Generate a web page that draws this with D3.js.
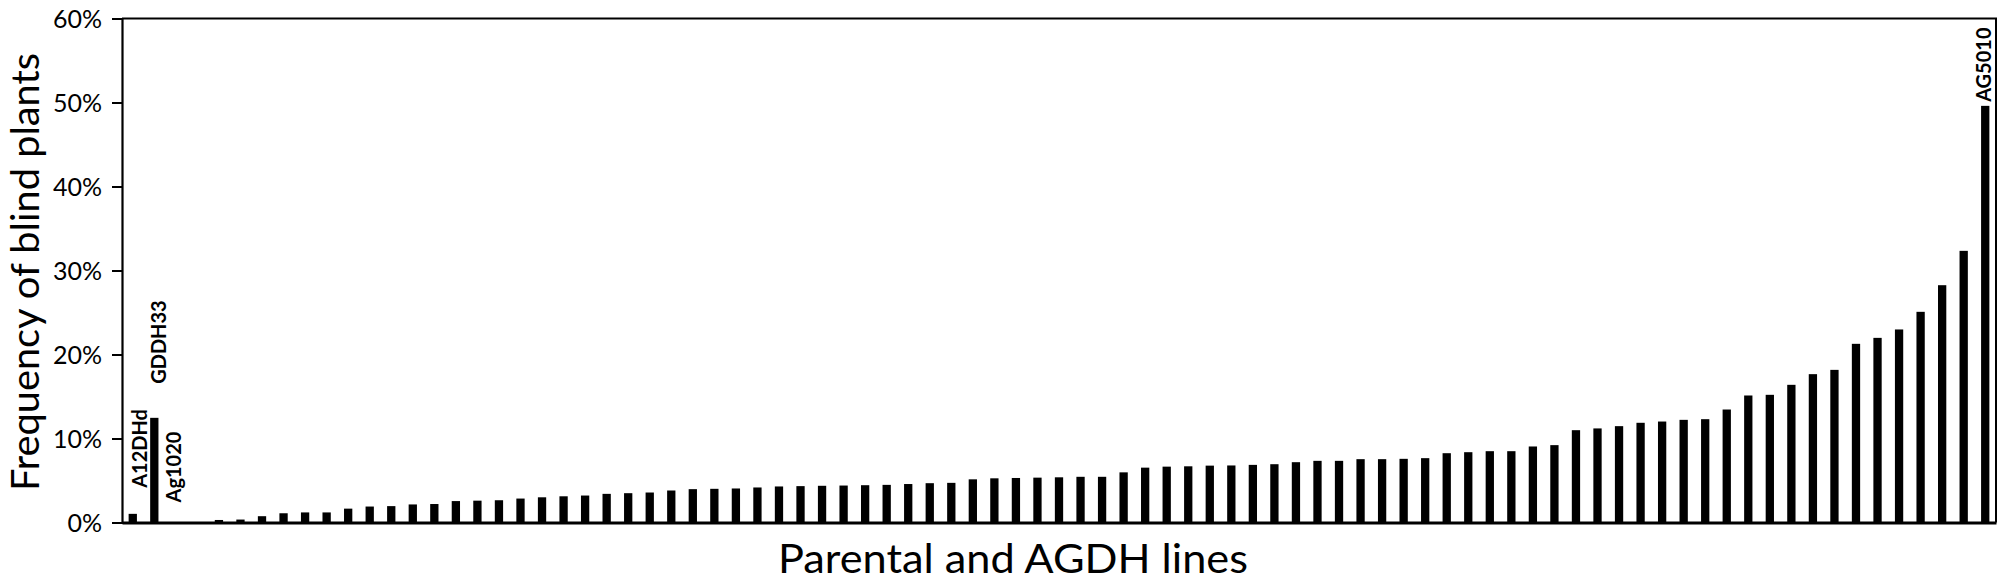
<!DOCTYPE html>
<html>
<head>
<meta charset="utf-8">
<script src="https://cdn.jsdelivr.net/npm/d3@7"></script>
<style>
  html, body { margin: 0; padding: 0; background: #fff; }
  svg { display: block; }
  text { font-family: Lato, "Open Sans", sans-serif; fill: #000; }
</style>
</head>
<body>
<svg id="chart" width="2000" height="583"></svg>
<script>
// ---- data ----
const parentLines = ["A12DHd", "GDDH33", "Ag1020"];
const parentValues = [1.03, 12.46, 0];
const gapCategory = [""];
const agdhValues = [
  0.3, 0.35, 0.75, 1.1, 1.2, 1.2, 1.65, 1.9, 1.95, 2.15, 2.2, 2.55, 2.6, 2.65, 2.85, 3.0,
  3.12, 3.21, 3.41, 3.49, 3.57, 3.81, 3.97, 4.01, 4.05, 4.17, 4.29, 4.33, 4.37, 4.40, 4.44, 4.48, 4.58,
  4.68, 4.72, 5.14, 5.26, 5.30, 5.34, 5.38, 5.44, 5.44, 5.97, 6.53, 6.65, 6.69, 6.77, 6.79, 6.86,
  6.94, 7.18, 7.34, 7.34, 7.54, 7.54, 7.58, 7.66, 8.25, 8.37, 8.49, 8.49, 9.05, 9.21, 10.99, 11.2,
  11.47, 11.87, 12.02, 12.22, 12.30, 13.45, 15.12, 15.20, 16.39, 17.66, 18.17, 21.27, 21.98, 22.98, 25.08, 28.25, 32.34,
  49.6
];
const agdhLines = agdhValues.map((v, i) => i === agdhValues.length - 1 ? "AG5010" : "AGDH_" + (i + 1));
const labelledLines = ["A12DHd", "GDDH33", "Ag1020", "AG5010"];
const yTicks = [0, 10, 20, 30, 40, 50, 60];
const yTickLabels = ["0%", "10%", "20%", "30%", "40%", "50%", "60%"];
const yTitle = "Frequency of blind plants";
const xTitle = "Parental and AGDH lines";

// ---- build ----
const categories = parentLines.concat(gapCategory, agdhLines);
const rows = parentLines.map((c, i) => ({ c, v: parentValues[i] }))
  .concat(agdhLines.map((c, i) => ({ c, v: agdhValues[i] })));

const L = 122, R = 1996, T = 18.5, B = 522.5;
const svg = d3.select("#chart");

const x = d3.scaleBand().domain(categories).range([L, R]).paddingInner(0.615).paddingOuter(0.3075);
const y = d3.scaleLinear().domain([0, 60]).range([B, T]);

// bars
svg.append("g").selectAll("rect").data(rows.filter(d => d.v > 0)).join("rect")
  .attr("x", d => x(d.c))
  .attr("width", x.bandwidth())
  .attr("y", d => y(d.v))
  .attr("height", d => B - y(d.v))
  .attr("fill", "#000");

// frame (top and right)
svg.append("path")
  .attr("d", `M${L},${T}H${R}V${B}`)
  .attr("fill", "none").attr("stroke", "#000").attr("stroke-width", 2);

// y axis
const yAxis = d3.axisLeft(y).tickValues(yTicks).tickFormat((d, i) => yTickLabels[i]).tickSize(10).tickPadding(10);
const gy = svg.append("g").attr("transform", `translate(${L},0)`).call(yAxis);
gy.select(".domain").attr("stroke-width", 2.2);
gy.selectAll(".tick line").attr("stroke-width", 2);
gy.selectAll(".tick text").style("font-size", "25px").style("font-family", "Lato, sans-serif").attr("fill", "#000").attr("dy", "0.36em");

// x axis (baseline)
const xAxis = d3.axisBottom(x).tickValues([]).tickSize(0);
const gx = svg.append("g").attr("transform", `translate(0,${B})`).call(xAxis);
gx.select(".domain").attr("stroke-width", 3);

// bar labels
const labelOffsets = {
  "A12DHd": { dx: 14, base: "top", dy: -26 },
  "GDDH33": { dx: 11.5, base: "top", dy: -34 },
  "Ag1020": { dx: 5.5, base: "zero", dy: -20 },
  "AG5010": { dx: 5.5, base: "top", dy: -4 }
};
labelledLines.forEach((name) => {
  const r = rows.find(d => d.c === name);
  const o = labelOffsets[name];
  const cx = x(name) + x.bandwidth() / 2 + o.dx;
  const cy = (o.base === "top" ? y(r.v) : y(0)) + o.dy;
  svg.append("text")
    .attr("transform", `translate(${cx},${cy}) rotate(-90)`)
    .attr("text-anchor", "start")
    .style("font-size", "20px").style("font-weight", "bold")
    .text(name);
});

// titles
svg.append("text")
  .attr("transform", `translate(39,272) rotate(-90)`)
  .attr("text-anchor", "middle")
  .attr("textLength", 438).attr("lengthAdjust", "spacingAndGlyphs")
  .style("font-size", "38px")
  .text(yTitle);
svg.append("text")
  .attr("x", 1013).attr("y", 573)
  .attr("text-anchor", "middle")
  .attr("textLength", 470).attr("lengthAdjust", "spacingAndGlyphs")
  .style("font-size", "41px")
  .text(xTitle);
</script>
</body>
</html>
